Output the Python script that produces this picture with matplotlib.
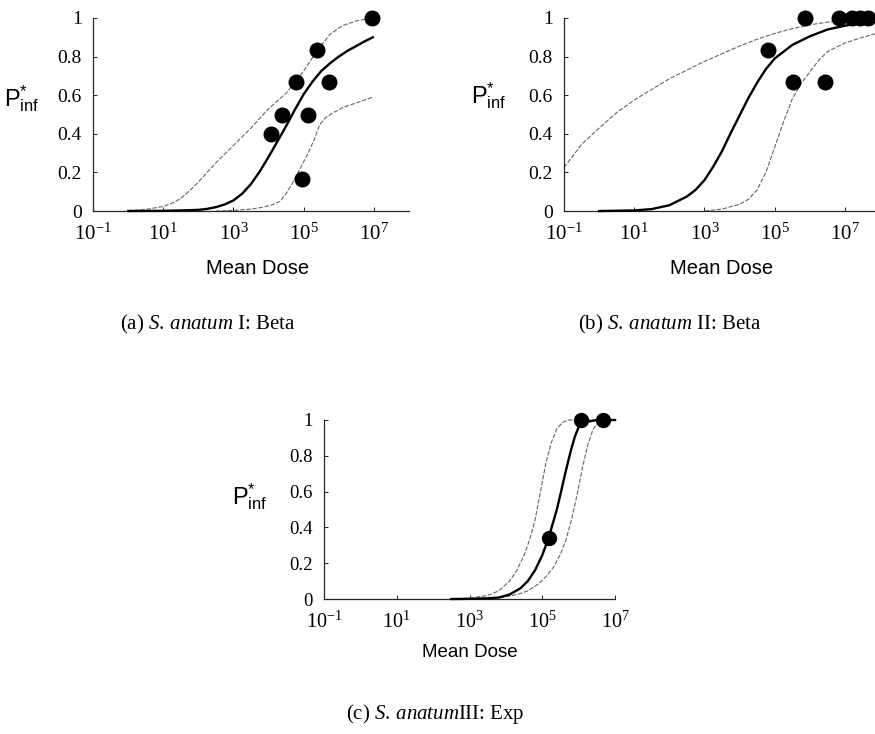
import numpy as np
import matplotlib
matplotlib.use('Agg')
import matplotlib.pyplot as plt

plt.rcParams['font.family'] = 'Liberation Serif'
plt.rcParams['mathtext.fontset'] = 'custom'
plt.rcParams['mathtext.rm'] = 'Liberation Serif'
plt.rcParams['mathtext.it'] = 'Liberation Serif:italic'
plt.rcParams['mathtext.sf'] = 'Liberation Sans'

# ---- data (doses as log10 values) ----
# (a) S. anatum I: Beta
a_obs_logdose = [4.06, 4.38, 4.78, 4.95, 5.13, 5.39, 5.73, 6.94]
a_obs_p = [0.4, 0.5, 0.667, 0.167, 0.5, 0.833, 0.667, 1.0]
a_fit_logdose = [0.0, 1.0, 1.5, 2.0, 2.25, 2.5, 2.75, 3.0, 3.25, 3.5, 3.75, 4.0, 4.25,
                 4.5, 4.75, 5.0, 5.25, 5.5, 5.75, 6.0, 6.25, 6.5, 6.75, 6.97]
a_fit_p = [0.0, 0.001, 0.003, 0.006, 0.011, 0.02, 0.034, 0.055, 0.09, 0.14, 0.205, 0.28, 0.36,
           0.44, 0.525, 0.605, 0.67, 0.725, 0.765, 0.8, 0.83, 0.855, 0.88, 0.9]
a_hi_logdose = [0.0, 0.5, 1.0, 1.25, 1.5, 1.75, 2.0, 2.5, 3.0, 3.5, 4.0, 4.5, 5.0, 5.4, 5.75,
                6.1, 6.5, 6.97]
a_hi_p = [0.002, 0.008, 0.024, 0.04, 0.065, 0.105, 0.15, 0.25, 0.34, 0.43, 0.53, 0.61, 0.725,
          0.835, 0.915, 0.96, 0.985, 1.0]
a_lo_logdose = [2.5, 3.0, 3.5, 3.85, 4.1, 4.33, 4.5, 4.7, 4.9, 5.1, 5.3, 5.45, 5.6, 5.8,
                6.1, 6.5, 6.97]
a_lo_p = [0.0, 0.003, 0.01, 0.02, 0.032, 0.05, 0.09, 0.15, 0.22, 0.29, 0.37, 0.445, 0.48,
          0.505, 0.535, 0.56, 0.59]

# (b) S. anatum II: Beta
b_obs_logdose = [4.82, 5.53, 5.87, 6.44, 6.84, 7.2, 7.43, 7.67]
b_obs_p = [0.833, 0.667, 1.0, 0.667, 1.0, 1.0, 1.0, 1.0]
b_fit_logdose = [0.0, 1.0, 1.5, 2.0, 2.5, 2.75, 3.0, 3.25, 3.5, 3.75, 4.0, 4.25, 4.5, 4.75,
                 5.0, 5.5, 6.0, 6.5, 7.0, 7.5, 8.0]
b_fit_p = [0.0, 0.003, 0.01, 0.03, 0.075, 0.11, 0.16, 0.23, 0.31, 0.405, 0.495, 0.585, 0.665,
           0.735, 0.79, 0.86, 0.905, 0.94, 0.96, 0.975, 0.985]
b_hi_logdose = [-1.0, -0.5, 0.0, 0.5, 1.0, 1.5, 2.0, 2.5, 3.0, 3.5, 4.0, 4.5, 5.0, 5.5,
                6.0, 6.5, 7.0, 7.5, 8.0]
b_hi_p = [0.225, 0.345, 0.43, 0.51, 0.575, 0.63, 0.685, 0.73, 0.775, 0.815, 0.855, 0.89,
          0.92, 0.945, 0.965, 0.978, 0.99, 0.997, 1.0]
b_lo_logdose = [3.0, 3.5, 4.0, 4.25, 4.5, 4.75, 5.0, 5.25, 5.5, 5.75, 6.0, 6.25, 6.5, 7.0,
                7.5, 8.0]
b_lo_p = [0.0, 0.01, 0.035, 0.06, 0.11, 0.2, 0.33, 0.46, 0.58, 0.66, 0.72, 0.78, 0.825,
          0.87, 0.9, 0.925]

# (c) S. anatum III: Exp
c_obs_logdose = [5.18, 6.06, 6.67]
c_obs_p = [0.34, 1.0, 1.0]
c_fit_logdose = [2.5, 3.0, 3.5, 3.8, 4.1, 4.4, 4.6, 4.8, 5.0, 5.18, 5.3, 5.4, 5.5, 5.6,
                 5.7, 5.8, 5.9, 6.0, 6.1, 6.5, 7.0]
c_fit_p = [0.0, 0.001, 0.004, 0.008, 0.025, 0.06, 0.1, 0.16, 0.245, 0.345, 0.43, 0.5,
           0.585, 0.675, 0.76, 0.84, 0.91, 0.96, 0.985, 1.0, 1.0]
c_hi_logdose = [2.5, 3.0, 3.5, 3.8, 4.1, 4.3, 4.5, 4.65, 4.8, 4.95, 5.1, 5.25, 5.4, 5.55,
                5.7, 6.0, 7.0]
c_hi_p = [0.0, 0.005, 0.02, 0.045, 0.1, 0.16, 0.245, 0.33, 0.44, 0.6, 0.76, 0.875, 0.95,
          0.985, 1.0, 1.0, 1.0]
c_lo_logdose = [3.0, 3.5, 4.0, 4.3, 4.6, 4.9, 5.1, 5.3, 5.5, 5.65, 5.8, 5.95, 6.1, 6.25,
                6.4, 6.55, 6.7, 7.0]
c_lo_p = [0.0, 0.003, 0.012, 0.025, 0.045, 0.085, 0.125, 0.175, 0.25, 0.33, 0.44, 0.575,
          0.73, 0.86, 0.95, 0.99, 1.0, 1.0]

x_ticks = [1e-1, 1e1, 1e3, 1e5, 1e7]
x_tick_labels = [r'$10^{-1}$', r'$10^{1}$', r'$10^{3}$', r'$10^{5}$', r'$10^{7}$']
y_ticks = [0, 0.2, 0.4, 0.6, 0.8, 1.0]
y_tick_labels = ['0', '0.2', '0.4', '0.6', '0.8', '1']

captions = [r'(a) $\mathit{S.\,anatum}$ I: Beta',
            r'(b) $\mathit{S.\,anatum}$ II: Beta',
            r'(c) $\mathit{S.\,anatum}$III: Exp']


def draw_panel(ax, obs_x, obs_y, fit_x, fit_y, hi_x, hi_y, lo_x, lo_y, xmax,
               ms, ylab_x, ylab_y, xlab_x, xlab_size, tick_size):
    band = dict(color='0.4', lw=0.8, ls=(0, (4, 1.5)), clip_on=False, zorder=2)
    ax.plot(10 ** np.array(hi_x), hi_y, **band)
    ax.plot(10 ** np.array(lo_x), lo_y, **band)
    ax.plot(10 ** np.array(fit_x), fit_y, color='black', lw=1.7, clip_on=False, zorder=3)
    ax.plot(10 ** np.array(obs_x), obs_y, 'o', color='black', ms=ms, clip_on=False,
            zorder=4)

    ax.set_xscale('log')
    ax.set_xlim(1e-1, xmax)
    ax.set_ylim(0, 1)
    ax.set_xticks(x_ticks)
    ax.set_xticklabels(x_tick_labels)
    ax.minorticks_off()
    ax.set_yticks(y_ticks)
    ax.set_yticklabels(y_tick_labels)
    ax.tick_params(direction='in', length=3, width=0.6)
    ax.tick_params(axis='x', labelsize=tick_size + 1, pad=9)
    ax.tick_params(axis='y', labelsize=tick_size, pad=8)
    for side in ['top', 'right']:
        ax.spines[side].set_visible(False)
    for side in ['left', 'bottom']:
        ax.spines[side].set_linewidth(0.9)
        ax.spines[side].set_color('0.15')

    ax.text(ylab_x, ylab_y, r'$\mathsf{P}^{\mathsf{*}}_{\mathsf{inf}}$', transform=ax.transAxes,
            ha='center', va='center', fontsize=17)
    ax.text(xlab_x, -0.30, 'Mean Dose', transform=ax.transAxes, ha='center', va='center',
            fontsize=xlab_size, family='Liberation Sans')


fig = plt.figure(figsize=(8.75, 7.34), dpi=100)

ax_a = fig.add_axes([0.1063, 0.7125, 0.3611, 0.263])
draw_panel(ax_a, a_obs_logdose, a_obs_p, a_fit_logdose, a_fit_p, a_hi_logdose, a_hi_p,
           a_lo_logdose, a_lo_p, 1e8, 10.5, -0.226, 0.585, 0.522, 14.5, 14)

ax_b = fig.add_axes([0.6446, 0.7125, 0.3611, 0.263])
draw_panel(ax_b, b_obs_logdose, b_obs_p, b_fit_logdose, b_fit_p, b_hi_logdose, b_hi_p,
           b_lo_logdose, b_lo_p, 1e8, 10.5, -0.239, 0.60, 0.5, 14.5, 14)

ax_c = fig.add_axes([0.3703, 0.1839, 0.3326, 0.2439])
draw_panel(ax_c, c_obs_logdose, c_obs_p, c_fit_logdose, c_fit_p, c_hi_logdose, c_hi_p,
           c_lo_logdose, c_lo_p, 1e7, 10, -0.254, 0.57, 0.5, 13.5, 13.5)

fig.text(0.2377, 0.5586, captions[0], ha='center', va='center', fontsize=15)
fig.text(0.7657, 0.5586, captions[1], ha='center', va='center', fontsize=15)
fig.text(0.4971, 0.0272, captions[2], ha='center', va='center', fontsize=15)

fig.savefig('out.png', dpi=100)
